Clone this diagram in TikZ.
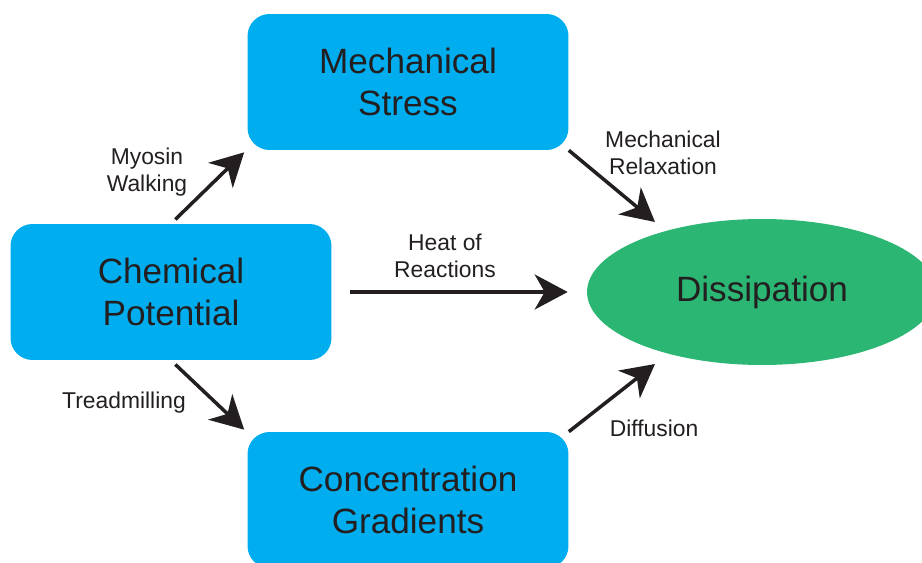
\documentclass[tikz,border=0pt]{standalone}
\usepackage{fontspec}
\setmainfont{Liberation Sans}
\usepackage{xcolor}
\usetikzlibrary{arrows.meta,calc,positioning,shapes.geometric}
\definecolor{boxblue}{HTML}{00AEEF}
\definecolor{dissgreen}{HTML}{2BB673}
\definecolor{inkgray}{HTML}{231F20}
\tikzset{%
	stage/.style    = {fill=boxblue, rectangle, rounded corners=0.44cm, minimum width=6.42cm, minimum height=2.72cm, align=center, text=inkgray, font=\fontsize{20}{24}\selectfont}, % Blue box
	sink/.style     = {fill=dissgreen, ellipse, inner sep=0pt, minimum width=7cm, minimum height=2.92cm, text=inkgray, font=\fontsize{20}{24}\selectfont}, % Green ellipse
	flowtext/.style = {align=center, text=inkgray, font=\fontsize{13}{15}\selectfont}, % Arrow text
	waypoint/.style = {coordinate},
	arrow/.style    = {draw=inkgray, line width=2pt, -{Stealth[length=0.66cm, width=0.7cm, inset=0.2cm]}},
}

\begin{document}
\begin{tikzpicture}[x=0.02cm,y=-0.02cm]
	\clip (0,0) rectangle (922,563);
	\node [stage] (mech) at (408,82) {Mechanical\\Stress};
	\node [stage] (chem) at (171,292) {Chemical\\Potential};
	\node [stage] (conc) at (408,500) {Concentration\\Gradients};
	\node [sink] (diss) at (762,292) {Dissipation};
	
	\node [waypoint] (relaxend) at (655,222) {};
	\node [waypoint] (diffend) at (655,364) {};
	
	\draw[arrow, shorten <=6*0.02cm] (chem.north) -- ($(mech.south west)+(-3,2)$);
	\draw[arrow, shorten <=6*0.02cm] (chem.south) -- ($(conc.north west)+(-3,-2)$);
	\draw[arrow, shorten <=18*0.02cm, shorten >=19*0.02cm] (chem.east) -- (diss.west);
	\draw[arrow] (mech.south east) -- (relaxend);
	\draw[arrow] (conc.north east) -- (diffend);
	
	\node[flowtext] (walk) at (147,172) {Myosin\\Walking};
	\node[flowtext] (tread) at (124,403) {Treadmilling};
	\node[flowtext] (heat) at (445,256) {Heat of\\Reactions};
	\node[flowtext] (relax) at (663,153) {Mechanical\\Relaxation};
	\node[flowtext] (diff) at (654,428) {Diffusion};
\end{tikzpicture}
\end{document}
